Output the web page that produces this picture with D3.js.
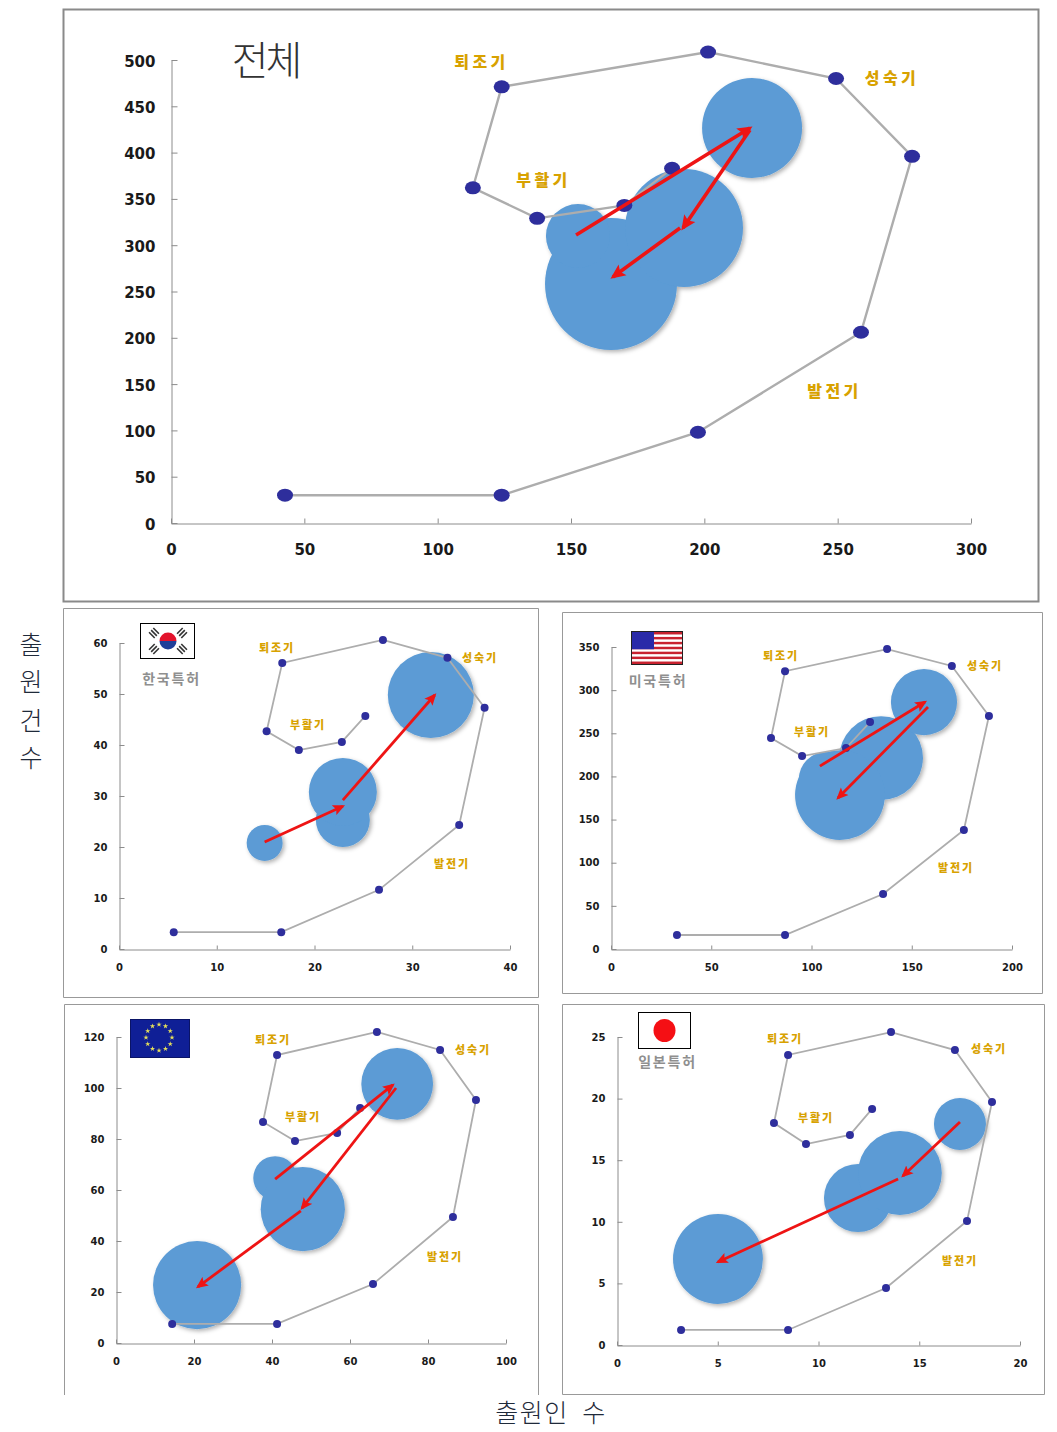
<!DOCTYPE html>
<html lang="ko">
<head>
<meta charset="utf-8">
<script src="https://cdn.jsdelivr.net/npm/d3@7"></script>
<style>
html,body{margin:0;padding:0;background:#fff}
svg{display:block}
</style>
</head>
<body>
<svg id="c" width="1057" height="1432"></svg>
<script>
// ---- Data (x = applicants, y = applications) ----
const stageNames = ["퇴조기", "성숙기", "부활기", "발전기"];

const allPathX = [42.75,124,197.6,258.75,277.9,249.4,201.4,124,113.2,137.3,170,187.9];
const allPathY = [30,30,98,206,396,480,508.6,471,362,329,343,383];
const allBubbleX = [165,192.4,152.6,217.9];
const allBubbleY = [258,318.6,310,426.6];
const allBubbleSize = [24.75,22.1,12,18.75];
const allArrowX1 = [151.9,217.1,190.9];
const allArrowY1 = [311,424.4,318.6];
const allArrowX2 = [217.1,192,165.7];
const allArrowY2 = [426.6,318.6,265.7];

const krPathX = [5.6,16.6,26.6,34.8,37.4,33.6,27.0,16.7,15.1,18.4,22.8,25.2];
const krPathY = [3.3,3.3,11.6,24.3,47.3,57.1,60.6,56.1,42.7,39.0,40.6,45.7];
const krBubbleX = [22.9,22.9,14.9,31.9];
const krBubbleY = [25.3,30.8,20.8,49.8];
const krBubbleSize = [2.76,3.48,1.84,4.4];
const krArrowX1 = [14.9,22.9];
const krArrowY1 = [21.0,29.2];
const krArrowX2 = [22.9,32.3];
const krArrowY2 = [28.0,49.8];

const usPathX = [32.9,86.8,135.7,176,188.5,170,137.7,86.8,79.8,95.3,117.2,129.2];
const usPathY = [16.2,16.2,63.7,137.9,270,328,347.6,322,244.5,223.6,232.9,263];
const usBubbleX = [107.2,134.7,114.2,156.1];
const usBubbleY = [197,221.3,178.4,286.2];
const usBubbleSize = [13.5,20.9,22.4,16.5];
const usArrowX1 = [104.2,158.1];
const usArrowY1 = [212,280.4];
const usArrowX2 = [156.6,113.2];
const usArrowY2 = [286.2,175];

const euPathX = [14.4,41.3,65.9,86.4,92.3,83.1,66.9,41.3,37.7,45.9,56.7,62.6];
const euPathY = [7.5,7.5,23.1,49.4,95.3,114.9,122,112.9,86.7,79.2,82.4,92.2];
const euBubbleX = [20.8,40.8,47.9,72.1];
const euBubbleY = [22.7,64.7,52.5,101.6];
const euBubbleSize = [11.3,5.6,10.8,9.2];
const euArrowX1 = [40.8,71.8,47.4];
const euArrowY1 = [64.3,100,51.8];
const euArrowX2 = [71,47.7,21];
const euArrowY2 = [101.2,52.9,22];

const jpPathX = [3.18,8.49,13.35,17.37,18.61,16.77,13.6,8.49,7.79,9.38,11.56,12.66];
const jpPathY = [1.22,1.22,4.63,10.06,19.72,23.94,25.4,23.54,18.02,16.31,17.05,19.16];
const jpBubbleX = [5.01,11.96,14.04,17.02];
const jpBubbleY = [6.98,11.93,13.96,17.94];
const jpBubbleSize = [2.23,1.69,2.08,1.29];
const jpArrowX1 = [17.02,13.95];
const jpArrowY1 = [18.1,13.47];
const jpArrowX2 = [14.19,5.01];
const jpArrowY2 = [13.72,6.74];

const allXTicks = [0,50,100,150,200,250,300];
const allYTicks = [0,50,100,150,200,250,300,350,400,450,500];
const krXTicks = [0,10,20,30,40];
const krYTicks = [0,10,20,30,40,50,60];
const usXTicks = [0,50,100,150,200];
const usYTicks = [0,50,100,150,200,250,300,350];
const euXTicks = [0,20,40,60,80,100];
const euYTicks = [0,20,40,60,80,100,120];
const jpXTicks = [0,5,10,15,20];
const jpYTicks = [0,5,10,15,20,25];

// ---- Layout ----
const charts = [
  {px:allPathX,py:allPathY,bx:allBubbleX,by:allBubbleY,bs:allBubbleSize,ax1:allArrowX1,ay1:allArrowY1,ax2:allArrowX2,ay2:allArrowY2,
   xt:allXTicks,yt:allYTicks,xr:[171,971],yr:[523,60],box:[63,9,1038,601],main:true,
   stage:[[481.5,62],[892,78],[543.5,180],[834.5,391]]},
  {px:krPathX,py:krPathY,bx:krBubbleX,by:krBubbleY,bs:krBubbleSize,ax1:krArrowX1,ay1:krArrowY1,ax2:krArrowX2,ay2:krArrowY2,
   xt:krXTicks,yt:krYTicks,xr:[119,510],yr:[949,643],box:[63,608,538,997],
   stage:[[277,648],[480,658],[308,725],[452,864]],name:["한국특허",171.5,679],flag:"kr"},
  {px:usPathX,py:usPathY,bx:usBubbleX,by:usBubbleY,bs:usBubbleSize,ax1:usArrowX1,ay1:usArrowY1,ax2:usArrowX2,ay2:usArrowY2,
   xt:usXTicks,yt:usYTicks,xr:[611,1012],yr:[949,647],box:[562,612,1042,993],
   stage:[[781,656],[985,666],[812,732],[956,868]],name:["미국특허",658,681],flag:"us"},
  {px:euPathX,py:euPathY,bx:euBubbleX,by:euBubbleY,bs:euBubbleSize,ax1:euArrowX1,ay1:euArrowY1,ax2:euArrowX2,ay2:euArrowY2,
   xt:euXTicks,yt:euYTicks,xr:[116,506],yr:[1343,1037],box:[64,1004,538,1395],openBottom:true,
   stage:[[273,1040],[473,1050],[303,1117],[445,1257]],flag:"eu"},
  {px:jpPathX,py:jpPathY,bx:jpBubbleX,by:jpBubbleY,bs:jpBubbleSize,ax1:jpArrowX1,ay1:jpArrowY1,ax2:jpArrowX2,ay2:jpArrowY2,
   xt:jpXTicks,yt:jpYTicks,xr:[617,1020],yr:[1345,1037],box:[562,1004,1044,1394],
   stage:[[785,1039],[989,1049],[816,1118],[960,1261]],name:["일본특허",667.5,1062],flag:"jp"}
];

const svg = d3.select("#c");
const KR = "'Noto Sans CJK KR','Noto Sans',sans-serif";
const defs = svg.append("defs");
const f = defs.append("filter").attr("id","sh").attr("x","-20%").attr("y","-20%").attr("width","150%").attr("height","150%");
f.append("feDropShadow").attr("dx",2).attr("dy",2).attr("stdDeviation",2).attr("flood-color","#000").attr("flood-opacity",0.3);
[["a1",7.5],["a2",6]].forEach(([id,s])=>{
  defs.append("marker").attr("id",id).attr("viewBox","0 0 10 10").attr("refX",8).attr("refY",5)
    .attr("markerUnits","userSpaceOnUse").attr("markerWidth",s*2).attr("markerHeight",s*2).attr("orient","auto")
    .append("path").attr("d","M0,0.5L10,5L0,9.5L2,5Z").attr("fill","#ee1414");
});

charts.forEach(c=>{
  const g = svg.append("g");
  const [bx0,by0,bx1,by1] = c.box;
  const border = c.openBottom
    ? `M${bx0+.5},${by1}V${by0+.5}H${bx1+.5}V${by1}`
    : `M${bx0+.5},${by1+.5}V${by0+.5}H${bx1+.5}V${by1+.5}Z`;
  g.append("path").attr("d",border).attr("fill","#fff").attr("stroke",c.main?"#8a8a8a":"#999").attr("stroke-width",c.main?2:1);

  const x = d3.scaleLinear().domain(d3.extent(c.xt)).range(c.xr);
  const y = d3.scaleLinear().domain(d3.extent(c.yt)).range(c.yr);
  const fs = c.main?15:10;

  const xa = g.append("g").attr("transform",`translate(0,${c.yr[0]+.5})`)
    .call(d3.axisBottom(x).tickValues(c.xt).tickSize(c.main?-5:-4).tickSizeOuter(0).tickPadding(c.main?21:14));
  const ya = g.append("g").attr("transform",`translate(${c.xr[0]+.5},0)`)
    .call(d3.axisLeft(y).tickValues(c.yt).tickSize(c.main?-6:-5).tickSizeOuter(0).tickPadding(c.main?16:12));
  [xa,ya].forEach(a=>{
    a.selectAll("path,line").attr("stroke","#8c8c8c");
    a.selectAll("text").attr("font-family","'DejaVu Sans',sans-serif").attr("font-weight","bold").attr("font-size",fs).attr("fill","#1a1a1a");
    a.select(".domain").attr("fill","none");
  });
  if(c.main) ya.selectAll("text").attr("dy","0.4em");

  const idx = d3.range(c.bx.length);
  const sx = v => x(v)-x(0);
  g.append("g").attr("filter","url(#sh)").selectAll("circle").data(idx).join("circle")
    .attr("cx",i=>x(c.bx[i])).attr("cy",i=>y(c.by[i])).attr("r",i=>sx(c.bs[i]))
    .attr("fill","#5b9bd5");

  const pts = d3.range(c.px.length);
  g.append("path").datum(pts)
    .attr("d",d3.line().x(i=>x(c.px[i])).y(i=>y(c.py[i])))
    .attr("fill","none").attr("stroke","#adadad").attr("stroke-width",c.main?2.4:1.8);
  g.append("g").selectAll("ellipse").data(pts).join("ellipse")
    .attr("cx",i=>x(c.px[i])).attr("cy",i=>y(c.py[i]))
    .attr("rx",c.main?8:4).attr("ry",c.main?6.5:4).attr("fill","#2e2e9c");

  g.append("g").selectAll("line").data(d3.range(c.ax1.length)).join("line")
    .attr("x1",i=>x(c.ax1[i])).attr("y1",i=>y(c.ay1[i]))
    .attr("x2",i=>x(c.ax2[i])).attr("y2",i=>y(c.ay2[i]))
    .attr("stroke","#ee1414").attr("stroke-width",c.main?3.6:2.8)
    .attr("marker-end",`url(#${c.main?"a1":"a2"})`);

  g.append("g").selectAll("text").data(stageNames).join("text")
    .attr("x",(d,i)=>c.stage[i][0]).attr("y",(d,i)=>c.stage[i][1])
    .attr("dy","0.36em").attr("text-anchor","middle")
    .attr("font-family",KR).attr("font-weight",900).attr("font-size",c.main?16:11)
    .attr("letter-spacing",c.main?"3.5px":"1.8px").attr("fill","#d8a200")
    .text(d=>d);

  if(c.name){
    g.append("text").attr("x",c.name[1]).attr("y",c.name[2]).attr("dy","0.36em")
      .attr("text-anchor","middle").attr("font-family",KR).attr("font-weight",700)
      .attr("font-size",14).attr("letter-spacing","1.8px").attr("fill","#8f8f8f").text(c.name[0]);
  }
});

// ---- Title and axis captions ----
svg.append("text").attr("x",265.5).attr("y",61).attr("dy","0.36em").attr("text-anchor","middle")
  .attr("font-family",KR).attr("font-weight",300).attr("font-size",40).attr("letter-spacing","-3px").attr("fill","#333").text("전체");
const yCaption = ["출","원","건","수"];
const yCaptionPos = [645,682,721,758];
svg.append("g").selectAll("text").data(yCaption).join("text")
  .attr("x",31).attr("y",(d,i)=>yCaptionPos[i]).attr("dy","0.36em").attr("text-anchor","middle")
  .attr("font-family",KR).attr("font-weight",300).attr("font-size",25).attr("fill","#1f2a3a").text(d=>d);
svg.append("text").attr("x",551).attr("y",1413).attr("dy","0.36em").attr("text-anchor","middle")
  .attr("font-family",KR).attr("font-weight",300).attr("font-size",25).attr("word-spacing","5px").attr("letter-spacing","1.5px").attr("fill","#1f2a3a").text("출원인 수");

// ---- Flags ----
function krFlag(g){
  g.append("rect").attr("x",140.5).attr("y",623.5).attr("width",54).attr("height",35).attr("fill","#fff").attr("stroke","#000");
  const cx=168,cy=641,r=8.5;
  g.append("path").attr("d",`M${cx-r},${cy}A${r},${r} 0 0 1 ${cx+r},${cy}Z`).attr("fill","#e3132c");
  g.append("path").attr("d",`M${cx-r},${cy}A${r},${r} 0 0 0 ${cx+r},${cy}Z`).attr("fill","#1f3f99");
  [[-14,-8,45],[14,-8,-45],[-14,8,-45],[14,8,45]].forEach(([dx,dy,a])=>{
    const t=g.append("g").attr("transform",`translate(${cx+dx},${cy+dy}) rotate(${a})`);
    [-3,0,3].forEach(o=>t.append("rect").attr("x",-4).attr("y",o-.8).attr("width",8).attr("height",1.6).attr("fill","#333"));
  });
}
function usFlag(g){
  const X=632,Y=632,W=50,H=32;
  g.append("rect").attr("x",X-.5).attr("y",Y-.5).attr("width",W+1).attr("height",H+1).attr("fill","#fff").attr("stroke","#222");
  d3.range(0,13,2).forEach(i=>g.append("rect").attr("x",X).attr("y",Y+i*H/13).attr("width",W).attr("height",H/13).attr("fill","#c8222f"));
  g.append("rect").attr("x",X).attr("y",Y).attr("width",22).attr("height",H*7/13).attr("fill","#2a2aa8");
}
function euFlag(g){
  g.append("rect").attr("x",130.5).attr("y",1019.5).attr("width",59).attr("height",38).attr("fill","#0f1f96").attr("stroke","#0a1466");
  const star=d3.symbol().type(d3.symbolStar).size(9);
  d3.range(12).forEach(i=>{
    const a=i/12*2*Math.PI;
    g.append("path").attr("d",star).attr("fill","#e6e05a")
      .attr("transform",`translate(${159+13*Math.sin(a)},${1037.5-13*Math.cos(a)})`);
  });
}
function jpFlag(g){
  g.append("rect").attr("x",638.5).attr("y",1012.5).attr("width",52).attr("height",36).attr("fill","#fff").attr("stroke","#000");
  g.append("ellipse").attr("cx",664.5).attr("cy",1030.5).attr("rx",11).attr("ry",11.5).attr("fill","#f50f14");
}
const flags = svg.append("g");
krFlag(flags); usFlag(flags); euFlag(flags); jpFlag(flags);
</script>
</body>
</html>
